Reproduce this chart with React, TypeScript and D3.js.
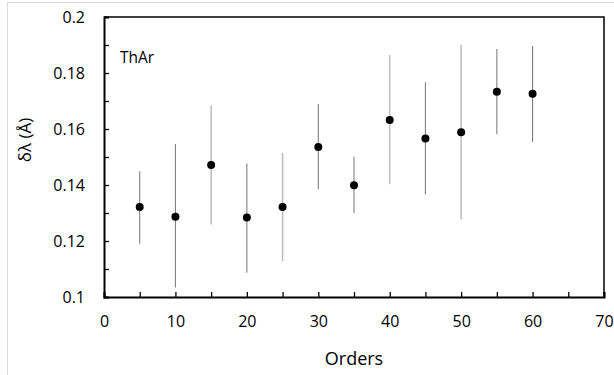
import React, { useEffect, useRef } from "react";
import * as d3 from "d3";

const orders = [5, 10, 15, 20, 25, 30, 35, 40, 45, 50, 55, 60];
const deltaLambda = [0.1321, 0.1287, 0.1471, 0.1284, 0.1321, 0.1536, 0.1399, 0.1632, 0.1566, 0.1588, 0.1733, 0.1726];
const errLow = [0.119, 0.1034, 0.1259, 0.1087, 0.1128, 0.1385, 0.13, 0.1403, 0.1366, 0.1278, 0.1581, 0.1554];
const errHigh = [0.1449, 0.1546, 0.1684, 0.1477, 0.1515, 0.1689, 0.1501, 0.1864, 0.1767, 0.19, 0.1886, 0.1896];
// the light grey bars belong to a second series of error bars
const lightBar = [false, false, true, false, true, false, false, true, false, true, false, false];
const xTickLabels = [0, 10, 20, 30, 40, 50, 60, 70];
const yTickLabels = [0.1, 0.12, 0.14, 0.16, 0.18, 0.2];

export default function App() {
  const svgRef = useRef<SVGSVGElement>(null);

  useEffect(() => {
    const width = 614;
    const height = 375;
    const margin = { top: 17, right: 10, bottom: 78, left: 104 };
    const font = "'Open Sans', sans-serif";

    const svg = d3.select(svgRef.current).attr("width", width).attr("height", height);
    svg.selectAll("*").remove();

    // outer chart-area frame
    svg
      .append("rect")
      .attr("x", 7.5)
      .attr("y", 2.5)
      .attr("width", width)
      .attr("height", height)
      .attr("fill", "white")
      .attr("stroke", "#d9d9d9");

    const x = d3.scaleLinear().domain([0, 70]).range([margin.left, width - margin.right]);
    const y = d3.scaleLinear().domain([0.1, 0.2]).range([height - margin.bottom, margin.top]);

    const yAxis = svg
      .append("g")
      .attr("transform", `translate(${margin.left},0)`)
      .call(
        d3
          .axisLeft(y)
          .tickValues(d3.range(0, 11).map((i) => 0.1 + i * 0.01))
          .tickSize(-5)
          .tickPadding(19)
          .tickFormat((d) => (yTickLabels.some((t) => Math.abs(t - +d) < 1e-6) ? String(+(+d).toFixed(2)) : ""))
      );

    const xAxis = svg
      .append("g")
      .attr("transform", `translate(0,${height - margin.bottom})`)
      .call(
        d3
          .axisBottom(x)
          .tickValues(d3.range(0, 15).map((i) => i * 5))
          .tickSize(-5)
          .tickPadding(19)
          .tickFormat((d) => (xTickLabels.includes(+d) ? String(d) : ""))
      );

    [xAxis, yAxis].forEach((a) => {
      a.select(".domain").attr("stroke", "black").attr("stroke-width", 2);
      a.selectAll(".tick line").attr("stroke", "black").attr("stroke-width", 1.3);
      a.selectAll(".tick text")
        .attr("font-family", font)
        .attr("font-size", "16px")
        .attr("fill", "#000");
    });

    // top and right frame lines
    svg
      .append("path")
      .attr("d", `M${x(0)},${y(0.2)}H${x(70)}V${y(0.1)}`)
      .attr("fill", "none")
      .attr("stroke", "black")
      .attr("stroke-width", 1.5);

    const rows = orders.map((o, i) => ({
      o,
      v: deltaLambda[i],
      lo: errLow[i],
      hi: errHigh[i],
      light: lightBar[i],
    }));

    svg
      .append("g")
      .selectAll("line")
      .data(rows)
      .enter()
      .append("line")
      .attr("x1", (d) => x(d.o))
      .attr("x2", (d) => x(d.o))
      .attr("y1", (d) => y(d.lo))
      .attr("y2", (d) => y(d.hi))
      .attr("stroke", (d) => (d.light ? "#bfbfbf" : "#808080"))
      .attr("stroke-width", (d) => (d.light ? 1.6 : 1.1));

    svg
      .append("g")
      .selectAll("circle")
      .data(rows)
      .enter()
      .append("circle")
      .attr("cx", (d) => x(d.o))
      .attr("cy", (d) => y(d.v))
      .attr("r", 4)
      .attr("fill", "black");

    svg
      .append("text")
      .attr("x", 120)
      .attr("y", 63)
      .text("ThAr")
      .attr("font-family", font)
      .attr("font-size", "15.5px");

    svg
      .append("text")
      .attr("x", (x(0) + x(70)) / 2)
      .attr("y", 365)
      .attr("text-anchor", "middle")
      .text("Orders")
      .attr("font-family", font)
      .attr("font-size", "18px");

    svg
      .append("text")
      .attr("transform", `translate(31,140) rotate(-90)`)
      .attr("text-anchor", "middle")
      .text("δλ (Å)")
      .attr("font-family", font)
      .attr("font-size", "17px");
  }, []);

  return (
    <div style={{ position: "absolute", left: 0, top: 0 }}>
      <svg ref={svgRef} style={{ display: "block" }}></svg>
    </div>
  );
}
